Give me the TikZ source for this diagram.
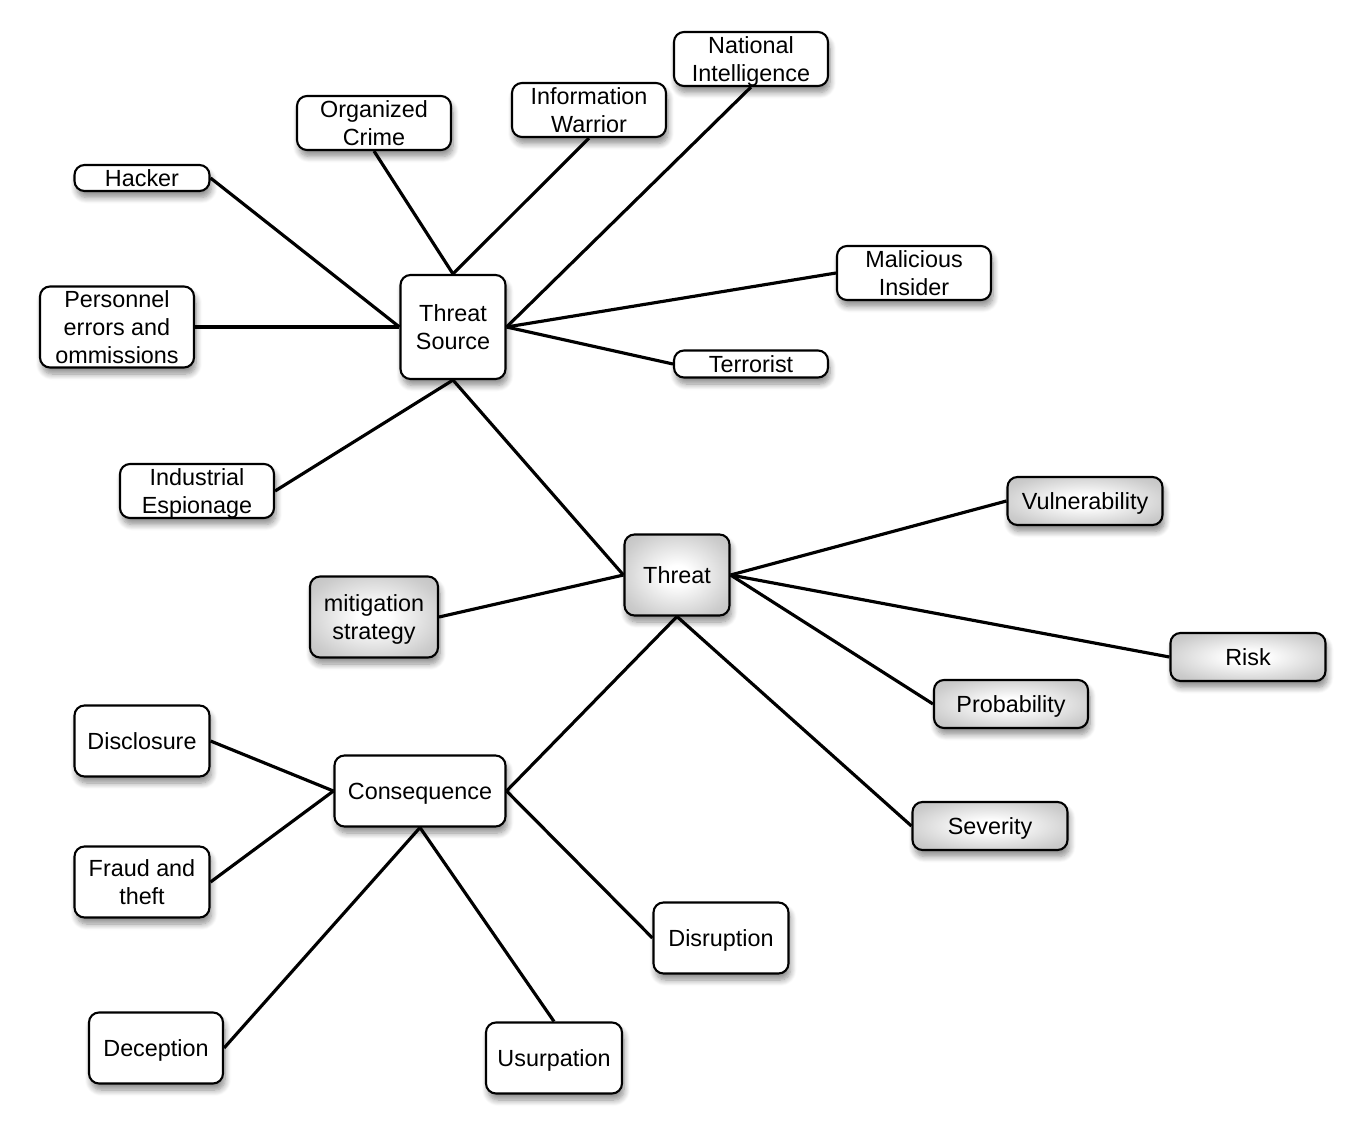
\documentclass[tikz,border=0pt]{standalone}
\usepackage{fontspec}
\setmainfont{Liberation Sans}
\usetikzlibrary{shadows.blur}
\pgfdeclareradialshading{glow}{\pgfpoint{0bp}{0bp}}{color(0bp)=(white);
  color(6bp)=(white); color(28bp)=(gray!40); color(50bp)=(gray!65); color(70bp)=(gray!75)}

\begin{document}
\begin{tikzpicture}[
  box/.style={draw,line width=1.2pt,rounded corners=2mm,align=center,inner sep=1pt,
    font=\fontsize{13.3}{16}\selectfont,text depth=0pt,fill=white,
    blur shadow={shadow xshift=0.4mm,shadow yshift=-1.3mm,shadow blur steps=8,
      shadow blur radius=1.2mm,shadow opacity=45}},
  hot/.style={box,shading=glow},
  wh/.style 2 args={minimum width=#1cm,minimum height=#2cm},
  link/.style={line width=1.8pt}]
\useasboundingbox (0,0) rectangle (27.3,-22.8);
% threat sources
\node[box,wh={2.10}{2.08}] (src) at (9.06,-6.54) {Threat\\Source};
\node[box,wh={3.08}{1.08}] (natint) at (15.02,-1.18) {National\\Intelligence};
\node[box,wh={3.08}{1.08}] (infowar) at (11.78,-2.20) {Information\\Warrior};
\node[box,wh={3.08}{1.08}] (crime) at (7.48,-2.46) {Organized\\Crime};
\node[box,wh={2.70}{0.52}] (hacker) at (2.84,-3.56) {Hacker};
\node[box,wh={3.08}{1.62}] (personnel) at (2.34,-6.54) {Personnel\\errors and\\ommissions};
\node[box,wh={3.08}{1.08}] (insider) at (18.28,-5.46) {Malicious\\Insider};
\node[box,wh={3.08}{0.54}] (terrorist) at (15.02,-7.28) {Terrorist};
\node[box,wh={3.08}{1.08}] (espionage) at (3.94,-9.82) {Industrial\\Espionage};
% threat and its attributes
\node[hot,wh={2.10}{1.62}] (threat) at (13.54,-11.50) {Threat};
\node[hot,wh={2.56}{1.62}] (mitig) at (7.48,-12.34) {mitigation\\strategy};
\node[hot,wh={3.10}{0.96}] (vuln) at (21.70,-10.02) {Vulnerability};
\node[hot,wh={3.10}{0.96}] (risk) at (24.96,-13.14) {Risk};
\node[hot,wh={3.08}{0.96}] (prob) at (20.22,-14.08) {Probability};
\node[hot,wh={3.10}{0.96}] (sev) at (19.80,-16.52) {Severity};
% consequences
\node[box,wh={3.42}{1.42}] (conseq) at (8.40,-15.82) {Consequence};
\node[box,wh={2.70}{1.42}] (disclosure) at (2.84,-14.82) {Disclosure};
\node[box,wh={2.70}{1.42}] (fraud) at (2.84,-17.64) {Fraud and\\theft};
\node[box,wh={2.70}{1.42}] (disruption) at (14.42,-18.76) {Disruption};
\node[box,wh={2.68}{1.42}] (deception) at (3.12,-20.96) {Deception};
\node[box,wh={2.72}{1.42}] (usurp) at (11.08,-21.16) {Usurpation};

\foreach \w in {hacker,personnel} \draw[link] (\w.east) -- (src.west);
\foreach \w in {crime,infowar} \draw[link] (\w.south) -- (src.north);
\draw[link] (natint.south) -- (src.east);
\foreach \w in {insider,terrorist} \draw[link] (\w.west) -- (src.east);
\draw[link] (espionage.east) -- (src.south);
\draw[link] (src.south) -- (threat.west);
\draw[link] (mitig.east) -- (threat.west);
\foreach \w in {vuln,risk,prob} \draw[link] (threat.east) -- (\w.west);
\draw[link] (threat.south) -- (sev.west);
\draw[link] (threat.south) -- (conseq.east);
\foreach \w in {disclosure,fraud} \draw[link] (\w.east) -- (conseq.west);
\draw[link] (conseq.east) -- (disruption.west);
\draw[link] (conseq.south) -- (deception.east);
\draw[link] (conseq.south) -- (usurp.north);
\end{tikzpicture}
\end{document}
